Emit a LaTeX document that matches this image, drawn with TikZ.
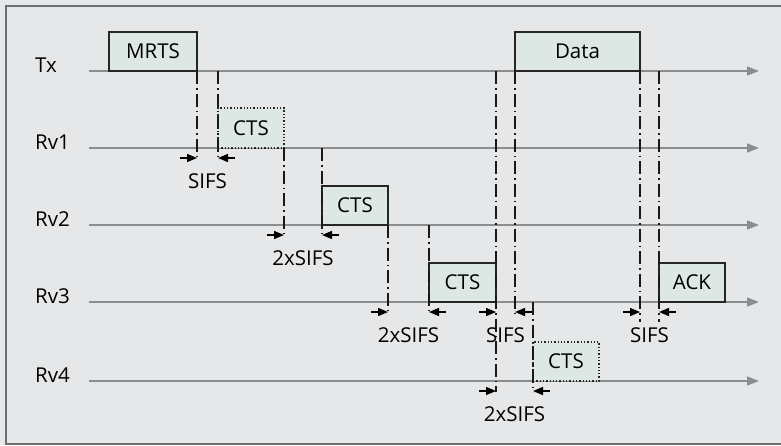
\documentclass[tikz,border=0pt]{standalone}
\usepackage{fontspec}
\setmainfont{Open Sans}
\usetikzlibrary{arrows.meta,calc}
\definecolor{bgc}{HTML}{E6E7E8}
\definecolor{framec}{HTML}{6D6E70}
\definecolor{axisc}{HTML}{8C8D8F}
\definecolor{boxc}{HTML}{DDE8E5}
\tikzset{
  axis/.style={draw=axisc, line width=1.5pt, -{Triangle[length=12pt,width=9pt]}},
  pbox/.style={draw=black!85, fill=boxc, line width=1.3pt, inner sep=0pt, outer sep=0pt, anchor=south west, minimum height=39pt},
  dbox/.style={pbox, dotted, line width=1.1pt},
  dd/.style={draw=black!90, line width=1.2pt, dash pattern=on 13pt off 4pt on 1.5pt off 4pt},
  sarr/.style={draw=black, line width=1.4pt, -{Triangle[length=10pt,width=8pt]}},
  lbl/.style={inner sep=0pt},
  rowlbl/.style={inner sep=0pt, anchor=base west}
}
\newcommand{\gapmark}[5]{%
  \coordinate (#5l) at (#1,#3+10);
  \coordinate (#5r) at (#2,#3+10);
  \draw[sarr] ($(#5l)+(-17,0)$) -- (#5l);
  \draw[sarr] ($(#5r)+(17,0)$) -- (#5r);
  \node[lbl] (#5t) at ({(#1+#2)/2},#3+33) {#4};}
\begin{document}
\begin{tikzpicture}[x=1pt,y=-1pt,font=\fontsize{20.5}{22}\selectfont]
\useasboundingbox (0,0) rectangle (781,445);
\fill[bgc] (0,0) rectangle (781,445);
\draw[framec, line width=2pt] (782,5.5) -- (5.5,5.5) -- (5.5,443.5) -- (782,443.5);

% row labels and axes
\foreach \nm/\lab/\yy in {tx/Tx/71, rv1/Rv1/148, rv2/Rv2/225, rv3/Rv3/302, rv4/Rv4/381}{
  \node[rowlbl] (\nm lab) at (35,\yy+1.5) {\lab};
  \coordinate (\nm s) at (89,\yy);
  \coordinate (\nm e) at (759,\yy);
  \draw[axis] (\nm s) -- (\nm e);
}

% frames
\node[pbox, minimum width=88pt] (mrts) at (109,71) {MRTS};
\node[dbox, minimum width=66pt, minimum height=40pt] (cts1) at (218,148) {CTS};
\node[pbox, minimum width=66pt] (cts2) at (322,225) {CTS};
\node[pbox, minimum width=67pt] (cts3) at (429,302) {CTS};
\node[pbox, minimum width=125pt] (data) at (515,71) {Data};
\node[pbox, minimum width=66pt] (ack) at (659,302) {ACK};
\node[dbox, minimum width=66pt] (cts4) at (533,381) {CTS};

% dash-dot timing lines
\draw[dd] (mrts.south east) -- ++(0,89);
\draw[dd] (cts1.south west |- mrts.south) -- ++(0,89);
\draw[dd] (cts1.south east) -- ++(0,89);
\draw[dd] (cts2.south west |- cts1.south) -- ++(0,89);
\draw[dd] (cts2.south east) -- ++(0,89);
\draw[dd] (cts3.south west |- cts2.south) -- ++(0,89);
\draw[dd] (cts3.south east |- data.south) -- ++(0,321);
\draw[dd] (data.south west) -- ++(0,243);
\draw[dd] (cts4.south west |- cts3.south) -- ++(0,90);
\draw[dd] (data.south east) -- ++(0,251);
\draw[dd] (ack.south west |- data.south) -- ++(0,251);

% interval markers
\gapmark{197}{218}{148}{SIFS}{g1}
\gapmark{284}{322}{225}{2xSIFS}{g2}
\gapmark{388}{429}{302}{2xSIFS}{g3}
\gapmark{496}{515}{302}{SIFS}{g4}
\gapmark{640}{659}{302}{SIFS}{g5}
\gapmark{496}{533}{381}{2xSIFS}{g6}
\end{tikzpicture}
\end{document}
